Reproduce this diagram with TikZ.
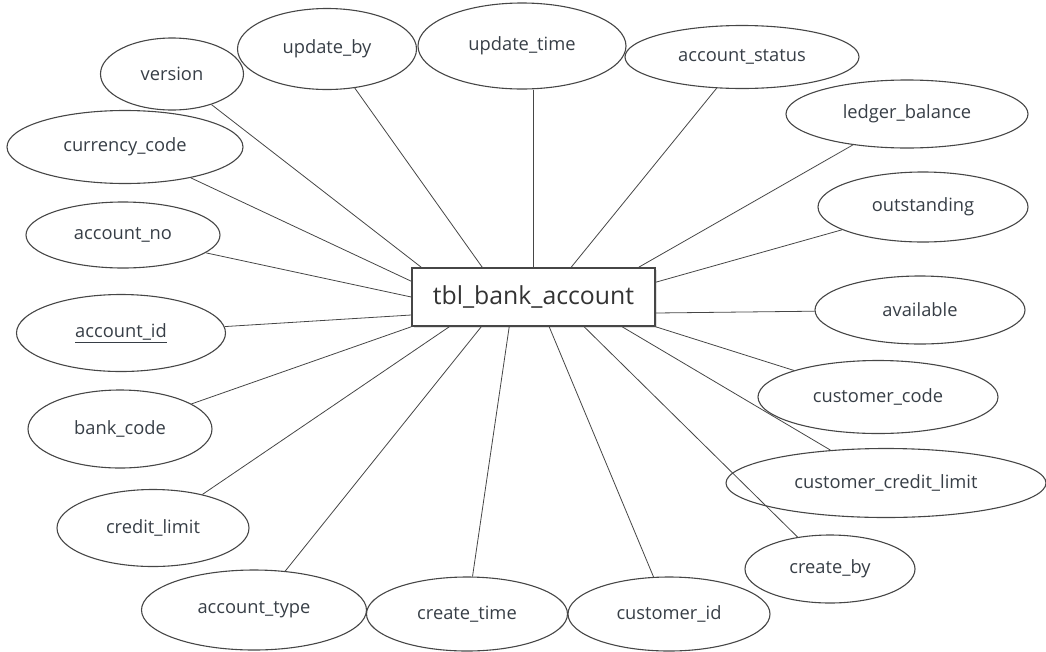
\documentclass[tikz,border=0pt]{standalone}
\usepackage{fontspec}
\setmainfont{Open Sans}
\usepackage{tikz}
\usetikzlibrary{shapes.geometric, shadows}
\definecolor{inkgray}{RGB}{55,62,70}
\definecolor{linegray}{RGB}{70,70,70}

\begin{document}
\begin{tikzpicture}[x=1pt,y=-1pt,
  attr/.style={ellipse,draw=linegray,line width=1.1pt,inner sep=0pt,text=inkgray,
    font=\fontsize{18.3}{21}\selectfont},
  entity/.style={draw=linegray,line width=1.6pt,fill=white,text=black!80,
    minimum width=243pt,minimum height=58pt,font=\fontsize{24.8}{29}\selectfont,
    drop shadow={opacity=0.25,shadow xshift=2pt,shadow yshift=-2pt}},
  link/.style={draw=linegray,line width=0.8pt}]
\useasboundingbox (0,0) rectangle (1046,651);

% Entity
\node[entity] (tbl) at (533.5,297) {tbl\_bank\_account};

% Attributes, top
\node[attr,minimum width=143pt,minimum height=72pt] (version) at (172,74) {version};
\node[attr,minimum width=179pt,minimum height=81pt] (updby) at (327,49) {update\_by};
\node[attr,minimum width=208pt,minimum height=86pt] (updtime) at (522,46) {update\_time};
\node[attr,minimum width=234pt,minimum height=63pt] (accstatus) at (742,57) {account\_status};
\node[attr,minimum width=242pt,minimum height=68pt] (ledger) at (907,114) {ledger\_balance};

% Attributes, left
\node[attr,minimum width=236pt,minimum height=73pt] (currency) at (125,147) {currency\_code};
\node[attr,minimum width=194pt,minimum height=66pt] (accno) at (123,235) {account\_no};
\node[attr,minimum width=209pt,minimum height=77pt] (accid) at (121,333) {\underline{account\_id}};
\node[attr,minimum width=184pt,minimum height=78pt] (bank) at (120,429) {bank\_code};
\node[attr,minimum width=192pt,minimum height=77pt] (credit) at (153,528) {credit\_limit};

% Attributes, bottom
\node[attr,minimum width=225pt,minimum height=80pt] (acctype) at (254,610) {account\_type};
\node[attr,minimum width=201pt,minimum height=74pt] (crtime) at (467,614) {create\_time};
\node[attr,minimum width=202pt,minimum height=74pt] (custid) at (669,614) {customer\_id};
\node[attr,minimum width=170pt,minimum height=68pt] (crby) at (830,569) {create\_by};

% Attributes, right
\node[attr,minimum width=210pt,minimum height=70pt] (outst) at (923,207) {outstanding};
\node[attr,minimum width=210pt,minimum height=68pt] (avail) at (920,310) {available};
\node[attr,minimum width=240pt,minimum height=73pt] (custcode) at (878,397) {customer\_code};
\node[attr,minimum width=320pt,minimum height=69pt] (custcredit) at (886,483) {customer\_credit\_limit};

% Links
\draw[link] (version) -- ([xshift=10pt]tbl.north west);
\draw[link] (updby) -- ([xshift=71pt]tbl.north west);
\draw[link] (updtime.south -| tbl.north) -- (tbl.north);
\draw[link] (accstatus) -- ([xshift=160pt]tbl.north west);
\draw[link] (ledger) -- ([xshift=-17pt]tbl.north east);
\draw[link] (currency) -- ([yshift=-14pt]tbl.north west);
\draw[link] (accno) -- (tbl.west);
\draw[link] (accid) -- ([yshift=-18pt]tbl.west);
\draw[link] (bank) -- (tbl.south west);
\draw[link] (credit) -- ([xshift=38pt]tbl.south west);
\draw[link] (acctype) -- ([xshift=70pt]tbl.south west);
\draw[link] (crtime) -- ([xshift=98pt]tbl.south west);
\draw[link] (custid) -- ([xshift=138pt]tbl.south west);
\draw[link] (crby) -- ([xshift=173pt]tbl.south west);
\draw[link] (custcredit) -- ([xshift=211pt]tbl.south west);
\draw[link] (custcode) -- (tbl.south east);
\draw[link] (outst) -- ([yshift=-15pt]tbl.north east);
\draw[link] (avail) -- ([yshift=-16pt]tbl.east);
\end{tikzpicture}
\end{document}
